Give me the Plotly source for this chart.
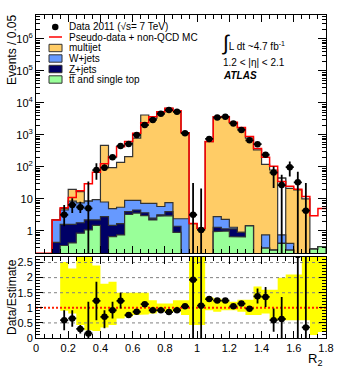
import numpy as np
import plotly.graph_objects as go

# ---------------- data ----------------
bin_width = 0.05
n_bins = 36
x_ticks = [0, 0.2, 0.4, 0.6, 0.8, 1.0, 1.2, 1.4, 1.6, 1.8]
x_ticktext = ["0", "0.2", "0.4", "0.6", "0.8", "1", "1.2", "1.4", "1.6", "1.8"]
y_ticks = [1, 10, 100, 1000, 10000, 100000, 1000000]
y_ticktext = ["1", "10", "10<sup>2</sup>", "10<sup>3</sup>", "10<sup>4</sup>", "10<sup>5</sup>", "10<sup>6</sup>"]
r_ticks = [0, 0.5, 1, 1.5, 2, 2.5]
r_ticktext = ["0", "0.5", "1", "1.5", "2", "2.5"]

ttbar = [0, 0, 0, 0.35, 0.42, 0.85, 1.07, 1.5, 0, 0.66, 0.75, 3.3, 3.6, 3.0, 2.2, 2.9, 3.0, 0.9,
         0, 0, 0, 0, 0.95, 1.0, 0.66, 0.65, 1.43, 0, 0.29, 0.25, 0.41, 0.25, 0, 0, 0.27, 0.32]
zjets = [0, 0, 0.44, 1.25, 1.18, 0.95, 1.13, 0.7, 2.8, 0.84, 0.95, 0.7, 0.9, 0.7, 0.3, 0.3, 1.0, 0.5,
         0, 0, 0, 0, 0.35, 0.15, 0.49, 0.25, 0, 0, 0, 0, 0, 0, 0, 0, 0, 0]
wjets = [0, 0, 1.76, 2.9, 6.9, 5.7, 6.3, 7.3, 5.2, 3.5, 3.8, 5.0, 4.5, 3.6, 4.8, 2.6, 3.7, 1.0,
         2.4, 0, 0, 0, 1.5, 1.15, 0.15, 0, 0, 0, 0.46, 0, 0.34, 0.16, 0, 0, 0, 0]
multijet = [0, 0, 0, 0.5, 11.5, 9.5, 0, 0, 462, 90, 134, 201, 790, 4190, 3290, 5190, 6790, 5700,
            1178, 1.7, 1.2, 620, 3697, 3698, 2399, 1649, 799, 340, 119, 80, 44, 21, 19, 10, 0, 0]
pseudo_data = [0, 0, 2.2, 5.3, 11, 18, 30, 68, 125, 210, 430, 620, 1130, 2400, 3700, 5300, 6800, 5700,
               1180, 1.7, 1.2, 620, 3700, 3700, 2500, 1700, 890, 380, 200, 105, 35, 25, 20, 12, 3, 5]
data = [None, None, None, 3.2, 6.5, 5.5, 5.1, 80, 95, 200, 455, 525, 1000, 2050, 2950, 4600, 6000, 5300,
        1130, 3.2, 1.07, 750, 3500, 3700, 2300, 1440, 680, 515, 240, 67, 27, 98, 33, 4.3, None, None]
data_err_up = [0, 0, 0, 3.3, 4, 2.7, 30, 50, 25, 30, 40, 45, 60, 90, 100, 120, 140, 130,
               60, 28, 20, 50, 110, 110, 90, 70, 50, 45, 30, 36, 30, 50, 38, 27, 0, 0]
data_err_down = [0, 0, 0, 1.8, 2.9, 1.9, 5.1, 40, 20, 25, 35, 40, 60, 90, 100, 120, 140, 130,
                 60, 3.2, 1.07, 50, 110, 110, 90, 70, 50, 45, 30, 45, 27, 48, 33, 4.3, 0, 0]

ratio = [None, None, None, 0.59, 0.65, 0.30, 0.15, 1.23, 0.70, 0.92, 1.23, 0.76, 0.87, 1.12, 0.92, 0.92,
         0.86, 0.92, 1.05, 1.93, 1.07, 1.29, 1.24, 1.24, 1.05, 1.14, 0.97, 1.38, 1.36, 0.59, 0.63, None,
         2.75, 0.35, None, None]
ratio_err_up = [0, 0, 0, 0.33, 0.27, 0.13, 1.05, 0.63, 0.22, 0.28, 0.27, 0.08, 0.05, 0.05, 0.04, 0.04,
                0.04, 0.04, 0.05, 2.0, 2.0, 0.06, 0.05, 0.05, 0.05, 0.06, 0.07, 0.26, 0.33, 0.39, 0.73, 0,
                1.0, 2.5, 0, 0]
ratio_err_down = [0, 0, 0, 0.33, 0.28, 0.15, 0.15, 0.64, 0.38, 0.27, 0.25, 0.08, 0.05, 0.05, 0.04, 0.04,
                  0.04, 0.04, 0.05, 1.93, 1.07, 0.06, 0.05, 0.05, 0.05, 0.06, 0.07, 0.24, 0.33, 0.38, 0.63, 0,
                  2.75, 0.35, 0, 0]
band_low = [None, None, None, 0.9, 0.81, 0.43, 0.26, 0.23, 0.35, 0.43, 0.65, 0.7, 0.76, 0.78, 0.81, 0.87,
            0.87, 0.87, 0.76, 0.43, 0.43, 0.92, 0.87, 0.92, 0.92, 0.87, 0.76, 0.76, 0.81, 0.59, 0.59, 0.59,
            0.59, 0.59, 0.1, 0.2]
band_high = [None, None, None, 2.52, 2.3, 3.0, 3.0, 2.4, 1.8, 1.86, 1.5, 1.5, 1.5, 1.5, 1.25, 1.14,
             1.14, 1.25, 1.25, 3.0, 3.0, 1.36, 1.31, 1.27, 1.2, 1.27, 1.27, 1.71, 1.6, 1.6, 2.0, 2.1,
             2.1, 3.0, 3.0, 3.0]
white_multijet_bins = [30]

# ---------------- styling ----------------
FONT = "Liberation Sans, Arial, Helvetica, sans-serif"
C_MJ = "#FFCC66"
C_W = "#6699FF"
C_Z = "#000066"
C_TT = "#99FF99"
C_OUT = "#333333"
W, H = 361, 376
L_PX, R_PX, T_PX, B_PX = 36, 325.8, 15, 338
MAIN_BOTTOM_PX, RATIO_TOP_PX = 253.3, 256.5


def px(x):
    return (x - L_PX) / (R_PX - L_PX)


def py(y):
    return (B_PX - y) / (B_PX - T_PX)


edges = np.arange(n_bins + 1) * bin_width
centers = edges[:-1] + bin_width / 2


def step_poly(vals, floor=1e-3):
    v = np.maximum(np.asarray(vals, float), floor)
    xs = np.concatenate([[edges[0]], np.repeat(edges, 2)[1:-1], [edges[-1]]])
    ys = np.concatenate([[floor], np.repeat(v, 2), [floor]])
    return xs, ys


cum_tt = np.array(ttbar, float)
cum_z = cum_tt + np.array(zjets, float)
cum_w = cum_z + np.array(wjets, float)
cum_all = cum_w + np.array(multijet, float)
mask_vals = np.array([cum_all[i] if i in white_multijet_bins else 0 for i in range(n_bins)])

fig = go.Figure()
for vals, col in [(cum_all, C_MJ), (mask_vals, "white"), (cum_w, C_W), (cum_z, C_Z), (cum_tt, C_TT)]:
    xs, ys = step_poly(vals)
    fig.add_trace(go.Scatter(x=xs, y=ys, mode="lines", fill="toself", fillcolor=col,
                             line=dict(color=C_OUT, width=1.2), xaxis="x", yaxis="y",
                             hoverinfo="skip", showlegend=False))

# pseudo-data step line
pv = np.maximum(np.array(pseudo_data, float), 0.201)
fig.add_trace(go.Scatter(x=np.repeat(edges, 2)[1:-1], y=np.repeat(pv, 2), mode="lines",
                         line=dict(color="#FF0000", width=1.5), xaxis="x", yaxis="y",
                         hoverinfo="skip", showlegend=False))

# data points
dv = np.array([np.nan if d is None else d for d in data], float)
dn = np.minimum(np.array(data_err_down, float), np.nan_to_num(dv) * 0.9999)
fig.add_trace(go.Scatter(x=centers, y=dv, mode="markers",
                         marker=dict(color="black", size=6.5),
                         error_y=dict(type="data", symmetric=False, array=data_err_up, arrayminus=dn,
                                      color="black", thickness=1.8, width=0),
                         error_x=dict(type="constant", value=bin_width / 2, color="black",
                                      thickness=1.8, width=0),
                         xaxis="x", yaxis="y", showlegend=False, hoverinfo="skip"))

# ratio band
bl = np.array([np.nan if b is None else b for b in band_low], float)
bh = np.array([np.nan if b is None else b for b in band_high], float)
idx = np.where(~np.isnan(bl))[0]
bx = np.repeat(edges[idx[0]: idx[-1] + 2], 2)[1:-1]
by_hi = np.repeat(bh[idx], 2)
by_lo = np.repeat(bl[idx], 2)
fig.add_trace(go.Scatter(x=np.concatenate([bx, bx[::-1]]), y=np.concatenate([by_hi, by_lo[::-1]]),
                         mode="lines", fill="toself", fillcolor="#FFFF00", line=dict(width=0),
                         xaxis="x2", yaxis="y2", hoverinfo="skip", showlegend=False))

# reference lines in ratio panel
for lv in [0.5, 1.5, 2, 2.5]:
    fig.add_trace(go.Scatter(x=[0, 1.8], y=[lv, lv], mode="lines",
                             line=dict(color="#808080", width=1, dash="3px,3px"),
                             xaxis="x2", yaxis="y2", hoverinfo="skip", showlegend=False))
fig.add_trace(go.Scatter(x=[0, 1.8], y=[1, 1], mode="lines",
                         line=dict(color="#FF2000", width=2, dash="2px,2px"),
                         xaxis="x2", yaxis="y2", hoverinfo="skip", showlegend=False))

rv = np.array([np.nan if r is None else r for r in ratio], float)
fig.add_trace(go.Scatter(x=centers, y=rv, mode="markers",
                         marker=dict(color="black", size=6.5),
                         error_y=dict(type="data", symmetric=False, array=ratio_err_up,
                                      arrayminus=ratio_err_down, color="black", thickness=1.8, width=0),
                         error_x=dict(type="constant", value=bin_width / 2, color="black",
                                      thickness=1.8, width=0),
                         xaxis="x2", yaxis="y2", showlegend=False, hoverinfo="skip"))

axis_common = dict(showline=True, linecolor="black", linewidth=1, mirror="ticks", ticks="inside",
                   tickcolor="black", showgrid=False, zeroline=False,
                   tickfont=dict(family=FONT, size=11, color="black"))

fig.update_layout(
    width=W, height=H,
    margin=dict(l=L_PX, r=W - R_PX, t=T_PX, b=H - B_PX),
    paper_bgcolor="white", plot_bgcolor="white",
    showlegend=False,
    font=dict(family=FONT, color="black"),
    xaxis=dict(domain=[0, 1], range=[0, 1.8], anchor="y", tickvals=x_ticks, showticklabels=False,
               ticklen=7, minor=dict(ticks="inside", dtick=0.05, tick0=0, ticklen=4, tickcolor="black"),
               **axis_common),
    yaxis=dict(domain=[py(MAIN_BOTTOM_PX), 1], type="log", range=[-0.7, 6.75], anchor="x",
               tickvals=y_ticks, ticktext=y_ticktext, ticklen=8,
               minor=dict(ticks="inside", dtick="D1", ticklen=4, tickcolor="black"),
               **axis_common),
    xaxis2=dict(domain=[0, 1], range=[0, 1.8], anchor="y2", tickvals=x_ticks, ticktext=x_ticktext,
                ticklen=7, minor=dict(ticks="inside", dtick=0.05, tick0=0, ticklen=4, tickcolor="black"),
                **axis_common),
    yaxis2=dict(domain=[0, py(RATIO_TOP_PX)], range=[0, 2.7], anchor="x2",
                tickvals=r_ticks, ticktext=r_ticktext, ticklen=7,
                minor=dict(ticks="inside", dtick=0.1, tick0=0, ticklen=4, tickcolor="black"),
                **axis_common),
)

ann = []
shapes = []
ann.append(dict(text="Events / 0.05", x=px(12), y=py(13), xref="paper", yref="paper", textangle=-90,
                xanchor="center", yanchor="top", showarrow=False, font=dict(size=12)))
ann.append(dict(text="Data/Estimate", x=px(12), y=py(297), xref="paper", yref="paper", textangle=-90,
                xanchor="center", yanchor="middle", showarrow=False, font=dict(size=12)))
ann.append(dict(text="R<sub>2</sub>", x=px(324), y=py(360), xref="paper", yref="paper",
                xanchor="right", yanchor="middle", showarrow=False, font=dict(size=13)))

# legend
leg_font = dict(size=10, family=FONT, color="black")
ann.append(dict(text="Data 2011 (\u221as= 7 TeV)", x=px(67), y=py(27), xref="paper", yref="paper",
                xanchor="left", yanchor="middle", showarrow=False, font=leg_font))
shapes.append(dict(type="circle", xref="paper", yref="paper", x0=px(52), x1=px(58.5), y0=py(30.2),
                   y1=py(23.8), fillcolor="black", line=dict(color="black", width=0)))
ann.append(dict(text="Pseudo-data + non-QCD MC", x=px(67), y=py(37.5), xref="paper", yref="paper",
                xanchor="left", yanchor="middle", showarrow=False, font=leg_font))
shapes.append(dict(type="line", xref="paper", yref="paper", x0=px(49), x1=px(62), y0=py(37),
                   y1=py(37), line=dict(color="#FF0000", width=1.5)))
for label, col, yc in [("multijet", C_MJ, 48), ("W+jets", C_W, 58.5), ("Z+jets", C_Z, 69),
                       ("tt\u0305 and single top", C_TT, 79.5)]:
    shapes.append(dict(type="rect", xref="paper", yref="paper", x0=px(49), x1=px(62), y0=py(yc + 3.7),
                       y1=py(yc - 3.7), fillcolor=col, line=dict(color=C_OUT, width=1)))
    ann.append(dict(text=label, x=px(67), y=py(yc), xref="paper", yref="paper",
                    xanchor="left", yanchor="middle", showarrow=False, font=leg_font))

ann.append(dict(text="<span style='font-size:21px'>\u222b</span>L dt ~4.7 fb<sup>-1</sup>",
                x=px(220), y=py(43), xref="paper", yref="paper",
                xanchor="left", yanchor="middle", showarrow=False, font=dict(size=10)))
ann.append(dict(text="1.2 < |\u03b7| < 2.1", x=px(221), y=py(62), xref="paper", yref="paper",
                xanchor="left", yanchor="middle", showarrow=False, font=dict(size=10)))
ann.append(dict(text="<b><i>ATLAS</i></b>", x=px(221), y=py(75), xref="paper", yref="paper",
                xanchor="left", yanchor="middle", showarrow=False, font=dict(size=10)))

fig.update_layout(annotations=ann, shapes=shapes)
fig.write_html("out.html", config={"displayModeBar": False, "staticPlot": True},
               post_script="document.body.style.margin='0px';")
